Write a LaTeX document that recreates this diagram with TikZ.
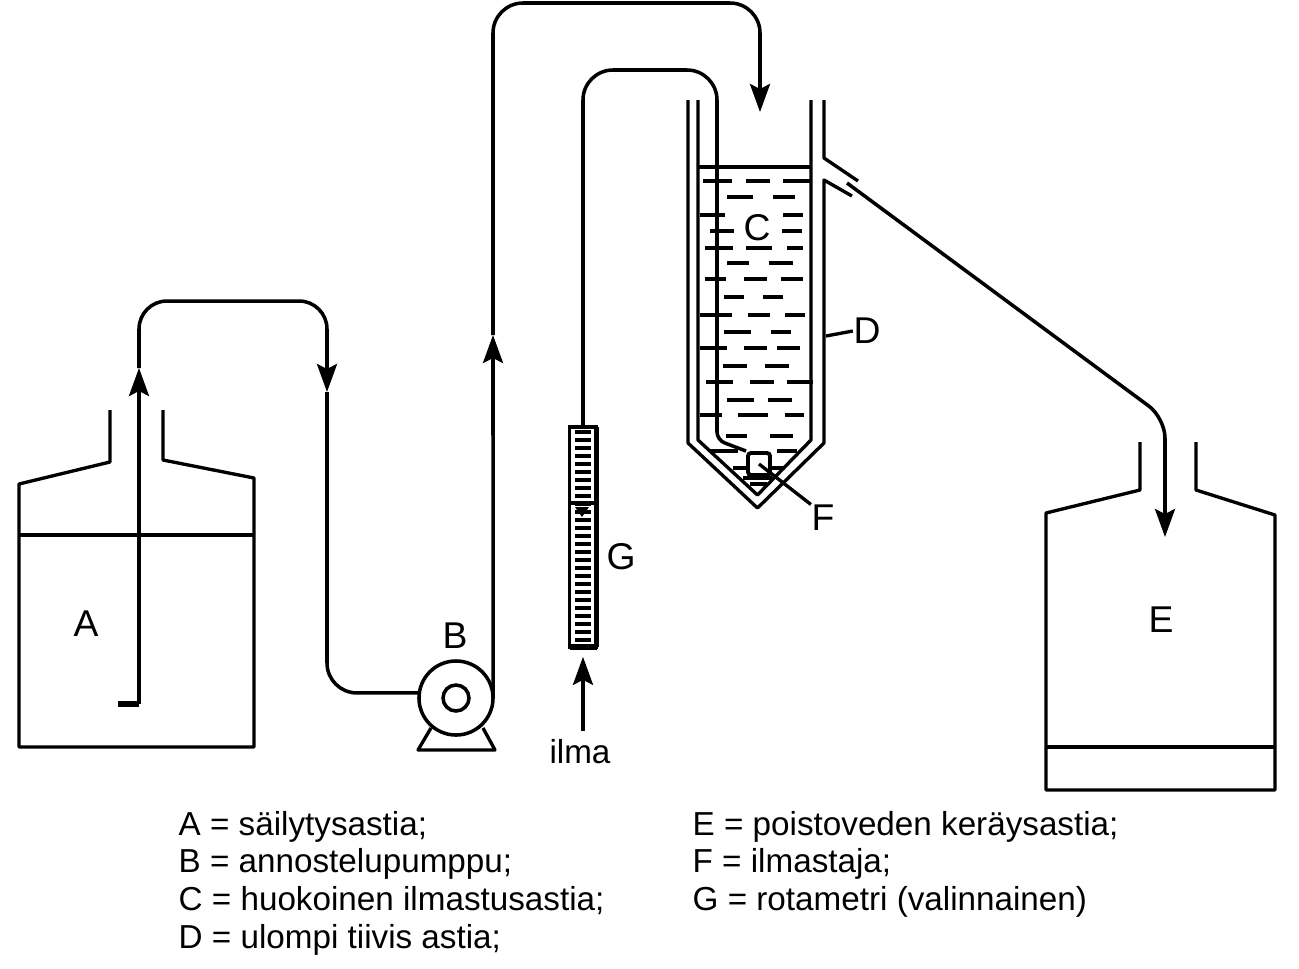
\documentclass[tikz,border=0pt]{standalone}
\usepackage{fontspec}
\setmainfont{Liberation Sans}
\usetikzlibrary{arrows.meta}
\tikzset{
	wall/.style={line width=.95pt, line join=round},
	pipe/.style={line width=1pt, rounded corners=.3cm},
	flow/.style={line width=1pt, -{Stealth[length=.28cm, width=.2cm, inset=.05cm]}},
	liquid/.style={line width=1pt},
	letter/.style={inner sep=0pt, font=\fontsize{10.6}{12}\selectfont},
	legend/.style={inner sep=0pt, anchor=base west, font=\fontsize{9.45}{12}\selectfont},
}
\begin{document}
\begin{tikzpicture}[x=.01cm, y=-.01cm]
	\useasboundingbox (0, 0) rectangle (1299, 969);

	% tank A
	\draw [wall] (110, 410) -- (110, 462) -- (19, 484) -- (19, 747) -- (254, 747) -- (254, 478) -- (163, 460) -- (163, 410);
	\draw [wall] (19, 535) -- (254, 535);
	\node [letter] (A) at (86, 624) {A};

	% pump
	\node [draw, circle, line width=1pt, minimum size=.74cm, inner sep=0pt, outer sep=0pt] (B) at (456, 698) {};
	\node [draw, circle, line width=1pt, minimum size=.26cm, inner sep=0pt] (Bhub) at (456, 698) {};
	\node [letter] (Blabel) at (455, 636) {B};
	\draw [wall] (431, 728) -- (418, 750) -- (495, 750) -- (483, 728);

	% feed line from A to the pump
	\coordinate (A1) at (118, 704);
	\coordinate (A2) at (139, 704);
	\coordinate (A3) at (139, 368);
	\coordinate (A4) at (139, 301);
	\coordinate (A5) at (327, 301);
	\coordinate (A6) at (327, 392);
	\coordinate (A7) at (327, 693);
	\draw [line width=1.5pt] (A1) -- (A2);
	\draw [flow] (A2) -- (A3);
	\draw [pipe, rounded corners=.28cm] (A3) -- (A4) -- (A5) -- (327, 380);
	\draw [flow] (327, 340) -- (A6);
	\draw [pipe] (A6) -- (A7) -- (B.172);

	% line from the pump to the top of C
	\coordinate (B1) at (493, 335);
	\coordinate (B2) at (493, 3);
	\coordinate (B3) at (760, 3);
	\coordinate (B4) at (760, 112);
	\draw [flow] (B.east) -- (B1);
	\draw [pipe] (B1) -- (B2) -- (B3) -- (760, 60);
	\draw [flow] (760, 60) -- (B4);

	% vessel D
	\draw [wall] (688, 100) -- (688, 443) -- (757.5, 508) -- (824, 443) -- (824, 180) -- (852, 196);
	\draw [wall] (824, 100) -- (824, 158) -- (858, 181);
	\node [letter] (D) at (867, 331) {D};
	\draw [wall] (826, 336) -- (D.west);

	% vessel C
	\draw [wall] (698, 100) -- (698, 440) -- (757.5, 495) -- (811, 440) -- (811, 100);
	\draw [line width=1.1pt] (698, 167) -- (811, 167);
	\node [letter] (C) at (757, 228) {C};

	% water in C
	\draw [liquid] (703, 181) -- (732, 181) (746, 181) -- (770, 181) (783, 181) -- (810, 181);
	\draw [liquid] (727, 197) -- (753, 197) (773, 197) -- (795, 197);
	\draw [liquid] (700, 215) -- (725, 215) (783, 215) -- (803, 215);
	\draw [liquid] (710, 231) -- (734, 231) (782, 231) -- (802, 231);
	\draw [liquid] (705, 248) -- (733, 248) (746, 248) -- (772, 248) (787, 248) -- (803, 248);
	\draw [liquid] (727, 263) -- (749, 263) (769, 263) -- (793, 263);
	\draw [liquid] (705, 279) -- (726, 279) (744, 279) -- (767, 279) (781, 279) -- (803, 279);
	\draw [liquid] (724, 297) -- (744, 297) (763, 297) -- (783, 297);
	\draw [liquid] (700, 315) -- (732, 315) (748, 315) -- (770, 315) (785, 315) -- (805, 315);
	\draw [liquid] (724, 332) -- (751, 332) (771, 332) -- (791, 332);
	\draw [liquid] (700, 348) -- (727, 348) (744, 348) -- (767, 348) (777, 348) -- (800, 348);
	\draw [liquid] (723, 366) -- (747, 366) (765, 366) -- (789, 366);
	\draw [liquid] (706, 382) -- (733, 382) (750, 382) -- (774, 382) (787, 382) -- (813, 382);
	\draw [liquid] (727, 400) -- (754, 400) (768, 400) -- (792, 400);
	\draw [liquid] (700, 415) -- (722, 415) (738, 415) -- (768, 415) (785, 415) -- (804, 415);
	\draw [liquid] (726, 436) -- (747, 436) (770, 436) -- (793, 436);
	\draw [liquid] (710, 451) -- (738, 451) (777, 451) -- (797, 451);
	\draw [liquid] (733, 468) -- (747, 468) (772, 468) -- (785, 468);
	\draw [liquid] (743, 478) -- (772, 478);
	\draw [liquid] (750, 484) -- (767, 484);

	% aerator and rotameter
	\node [draw, line width=1.1pt, rounded corners=.03cm, minimum size=.22cm, inner sep=0pt] (F) at (759, 464) {};
	\node [letter] (Flabel) at (823, 518) {F};
	\draw [wall] (F.center) -- (Flabel.north west);
	\node [draw, line width=1pt, minimum width=.27cm, minimum height=2.2cm, inner sep=0pt] (G) at (583, 537) {};
	\node [letter] (Glabel) at (621, 557) {G};
	\foreach \y in {432, 440, ..., 640}
		\draw [line width=1pt] (575, \y) -- (591, \y);
	\draw [line width=1.4pt] (596.5, 427) -- (596.5, 647);
	\draw [line width=1.6pt] (569.5, 647) -- (596.5, 647);
	\draw [line width=1.2pt] (569.5, 503) -- (596.5, 503);
	\fill (575, 507) -- (589, 507) -- (582, 517) -- cycle;

	% air line
	\coordinate (G1) at (583, 70);
	\coordinate (G2) at (717, 70);
	\coordinate (G3) at (717, 440);
	\draw [pipe] (G.north) -- (G1) -- (G2) [rounded corners=.08cm] -- (G3) -- (F.north west);
	\node [inner sep=0pt, font=\fontsize{9.45}{12}\selectfont] (ilma) at (580, 752) {ilma};
	\draw [flow, shorten >=.08cm, shorten <=.08cm] (ilma.north -| G.south) -- (G.south);

	% outlet to tank E
	\coordinate (E1) at (847, 183);
	\coordinate (E2) at (1165, 418);
	\coordinate (E3) at (1165, 537);
	\draw [flow, rounded corners=.2cm] (E1) -- (E2) -- (E3);

	% tank E
	\draw [wall] (1140, 442) -- (1140, 490) -- (1046, 513) -- (1046, 790) -- (1275, 790) -- (1275, 515) -- (1196, 490) -- (1196, 442);
	\draw [wall] (1046, 747) -- (1275, 747);
	\node [letter] (E) at (1161, 620) {E};

	% legend
	\node [legend] (legA) at (178, 835) {A = säilytysastia;};
	\node [legend] (legB) at (178, 872) {B = annostelupumppu;};
	\node [legend] (legC) at (178, 910) {C = huokoinen ilmastusastia;};
	\node [legend] (legD) at (178, 948) {D = ulompi tiivis astia;};
	\node [legend] (legE) at (692, 835) {E = poistoveden keräysastia;};
	\node [legend] (legF) at (692, 872) {F = ilmastaja;};
	\node [legend] (legG) at (692, 910) {G = rotametri (valinnainen)};
\end{tikzpicture}
\end{document}
